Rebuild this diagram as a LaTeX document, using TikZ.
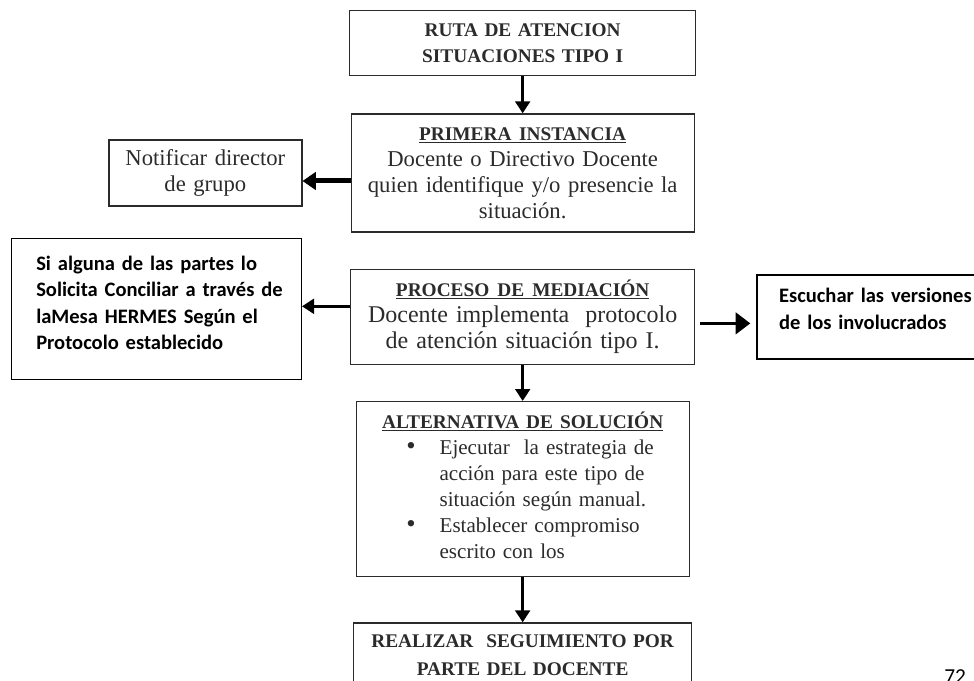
\documentclass[tikz,border=0pt]{standalone}
\usepackage{fontspec}
\setmainfont{Liberation Serif}
\newfontfamily\calibri{Carlito}
\usepackage{tikz}
\usetikzlibrary{positioning,arrows.meta}
\definecolor{inkgray}{HTML}{2B2B2B}
\newcommand{\titfont}{\fontsize{14.5}{19}\selectfont\bfseries}
\newcommand{\bodyfont}[1]{\fontsize{#1}{19.5}\selectfont}
\newcommand{\boldsans}{\calibri\bfseries\fontsize{15.4}{19.8}\selectfont}
\newcommand{\titul}[1]{{\titfont\underline{#1}}}
\newcommand{\bul}{{\fontsize{20}{19}\selectfont\textbullet}}

\begin{document}
\begin{tikzpicture}[
    box/.style={draw=inkgray, line width=1pt, text=inkgray, inner sep=2pt, align=center},
    sbox/.style={draw=black, line width=1.1pt, inner sep=0pt, align=left, font=\boldsans},
    arr/.style={draw=black, line width=2.4pt, -{Triangle[width=11pt,length=9pt]}}]
  \useasboundingbox (0,0) rectangle (730.5pt,-510.75pt);
  \node[box, anchor=north west, minimum width=259.5pt, minimum height=48.75pt, text width=255pt, font=\titfont] (ruta) at (261.75pt,-7.5pt) {RUTA DE ATENCION\\SITUACIONES TIPO I};
  \node[box, below=27.75pt of ruta, minimum width=257.25pt, minimum height=88.5pt, text width=253pt, font=\bodyfont{17}] (primera) {\titul{PRIMERA INSTANCIA}\\Docente o Directivo Docente\\quien identifique y/o presencie la\\situación.};
  \node[box, left=36pt of primera, minimum width=144.75pt, minimum height=49.5pt, text width=140pt, font=\bodyfont{17}] (notif) {Notificar director\\de grupo};
  \node[box, below=27pt of primera, minimum width=258pt, minimum height=71.25pt, text width=254pt, font=\bodyfont{18}] (medi) {\titul{PROCESO DE MEDIACIÓN}\\Docente implementa~ protocolo\\de atención situación tipo I.};
  \node[sbox, left=36pt of medi, yshift=6pt, minimum width=217.5pt, minimum height=105.75pt, text width=217.5pt] (sialg) {\begin{tabular}{@{\hspace{18.75pt}}l@{}}Si alguna de las partes lo\\Solicita Conciliar a través de\\laMesa HERMES Según el\\Protocolo establecido\\[6pt]\end{tabular}};
  \node[sbox, right=45.75pt of medi, minimum width=165pt, minimum height=63pt, text width=165pt] (escu) {\begin{tabular}{@{\hspace{16.5pt}}l@{}}Escuchar las versiones\\de los involucrados\\[9pt]\end{tabular}};
  \node[box, below=27pt of medi, minimum width=249.75pt, minimum height=131.25pt, text width=245.75pt, font=\bodyfont{15.8}] (alt) {\titul{ALTERNATIVA DE SOLUCIÓN}\\
    \hspace*{11pt}\begin{tabular}[t]{@{}c@{\hspace{18pt}}l@{}}
    \bul & Ejecutar~ la estrategia de\\
    & acción para este tipo de\\
    & situación según manual.\\
    \bul & Establecer compromiso\\
    & escrito con los
    \end{tabular}};
  \node[box, below=33.75pt of alt, minimum width=253.5pt, minimum height=48pt, text width=249.5pt, font=\fontsize{14.5}{21}\selectfont\bfseries] (real) {REALIZAR~ SEGUIMIENTO POR\\PARTE DEL DOCENTE};
  \node[anchor=base west, inner sep=0pt, font=\calibri\fontsize{16}{19}\selectfont] (pnum) at (708pt,-512.6pt) {72};
  \draw[arr] (ruta) -- (primera);
  \draw[arr, line width=3.75pt, -{Triangle[width=13pt,length=10pt]}] ([yshift=-6pt]primera.west) -- ([yshift=-6pt]primera.west -| notif.east);
  \draw[arr] ([yshift=7.9pt]medi.west) -- ([yshift=7.9pt]medi.west -| sialg.east);
  \draw[arr, -{Triangle[width=16pt,length=11pt]}, shorten <=3.75pt, shorten >=4.5pt] ([yshift=-4.9pt]medi.east) -- ([yshift=-4.9pt]medi.east -| escu.west);
  \draw[arr] (medi) -- (alt);
  \draw[arr] (alt) -- (real);
\end{tikzpicture}
\end{document}
